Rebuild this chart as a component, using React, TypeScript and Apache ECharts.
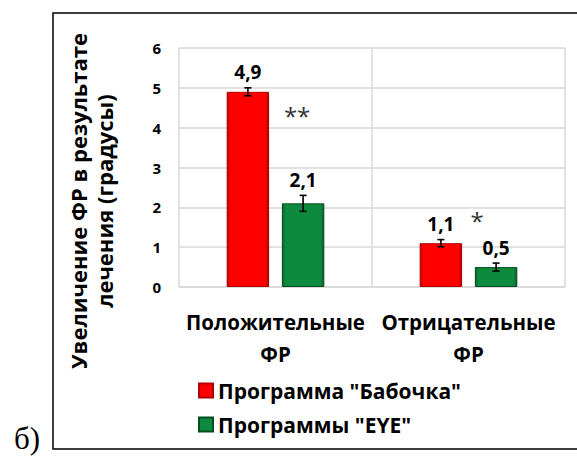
import React, { useEffect, useRef } from "react";
import * as echarts from "echarts";

const categories = ["Положительные\nФР", "Отрицательные\nФР"];
const seriesNames = ['Программа "Бабочка"', 'Программы "EYE"'];
const butterflyValues = [4.9, 1.1];
const eyeValues = [2.1, 0.5];
const butterflyErrors = [0.1, 0.09];
const eyeErrors = [0.2, 0.1];
const significanceMarks = ["**", "*"];
const significanceLevels = [4.3, 1.68];
const yTicks = [0, 1, 2, 3, 4, 5, 6];
const yAxisTitle = "Увеличение ФР в результате\nлечения (градусы)";
const panelLabel = "б)";

const FONT = "'Open Sans', 'Noto Sans', sans-serif";
const BAR_W = 0.22;
const BAR_GAP = 0.3;

function fmt(v: number) {
  return v.toFixed(1).replace(".", ",");
}

export default function App() {
  const ref = useRef<HTMLDivElement>(null);
  useEffect(() => {
    if (!ref.current) return;
    const chart = echarts.init(ref.current, null, { renderer: "svg" });
    const redFill = new echarts.graphic.LinearGradient(0, 0, 1, 0, [
      { offset: 0, color: "#a80000" },
      { offset: 0.07, color: "#ff0000" },
      { offset: 0.93, color: "#ff0000" },
      { offset: 1, color: "#9a0000" },
    ]);
    const greenFill = new echarts.graphic.LinearGradient(0, 0, 1, 0, [
      { offset: 0, color: "#075a26" },
      { offset: 0.07, color: "#0e8a3e" },
      { offset: 0.93, color: "#0e8a3e" },
      { offset: 1, color: "#065224" },
    ]);
    const errSeries = (vals: number[], errs: number[], sign: number, name: string) => ({
      type: "custom",
      name: name + " err",
      z: 5,
      silent: true,
      data: vals.map((v, i) => [i, v - errs[i], v + errs[i], v]),
      renderItem: (params: any, api: any) => {
        const cat = api.value(0);
        const lo = api.coord([cat, api.value(1)]);
        const hi = api.coord([cat, api.value(2)]);
        const bw = api.size([1, 0])[0] * BAR_W;
        const x = lo[0] + sign * bw * (1 + BAR_GAP) / 2;
        const cap = 3.5;
        const st = { stroke: "#000", lineWidth: 1.6 };
        return {
          type: "group",
          children: [
            { type: "line", shape: { x1: x, y1: lo[1], x2: x, y2: hi[1] }, style: st },
            { type: "line", shape: { x1: x - cap, y1: lo[1], x2: x + cap, y2: lo[1] }, style: st },
            { type: "line", shape: { x1: x - cap, y1: hi[1], x2: x + cap, y2: hi[1] }, style: st },
            {
              type: "text",
              x: x,
              y: hi[1] - 6,
              style: {
                text: fmt(api.value(3)),
                align: "center",
                verticalAlign: "bottom",
                font: `bold 19px ${FONT}`,
                fill: "#000",
              },
            },
          ],
        };
      },
    });
    chart.setOption({
      animation: false,
      grid: { left: 179, top: 48, width: 386, height: 239 },
      legend: {
        data: seriesNames,
        orient: "vertical",
        left: 193,
        top: 375,
        itemWidth: 14,
        itemHeight: 14,
        itemGap: 13,
        icon: "rect",
        textStyle: { fontFamily: FONT, fontWeight: "bold", fontSize: 21, color: "#000" },
      },
      xAxis: {
        type: "category",
        data: categories,
        axisTick: { show: false },
        axisLine: { show: true, lineStyle: { color: "#d9d9d9", width: 1.5 } },
        splitLine: { show: true, lineStyle: { color: "#d9d9d9", width: 1.5 } },
        axisLabel: {
          fontFamily: FONT,
          fontWeight: "bold",
          fontSize: 20.5,
          color: "#000",
          lineHeight: 32,
          margin: 19,
          interval: 0,
        },
      },
      yAxis: {
        type: "value",
        min: yTicks[0],
        max: yTicks[yTicks.length - 1],
        interval: 1,
        axisLine: { show: false },
        axisTick: { show: false },
        splitLine: { lineStyle: { color: "#d9d9d9", width: 1.5 } },
        axisLabel: { fontFamily: FONT, fontWeight: "bold", fontSize: 15, color: "#000", margin: 18 },
      },
      series: [
        {
          type: "bar",
          name: seriesNames[0],
          data: butterflyValues,
          barWidth: BAR_W * 100 + "%",
          barGap: BAR_GAP * 100 + "%",
          itemStyle: { color: redFill, borderColor: "#b00000", borderWidth: 1 },
        },
        {
          type: "bar",
          name: seriesNames[1],
          data: eyeValues,
          barWidth: BAR_W * 100 + "%",
          barGap: BAR_GAP * 100 + "%",
          itemStyle: { color: greenFill, borderColor: "#064d21", borderWidth: 1 },
          markPoint: {
            symbol: "circle",
            symbolSize: 0,
            silent: true,
            data: significanceMarks.map((m, i) => ({
              coord: [i, significanceLevels[i]],
              label: {
                show: true,
                formatter: m,
                offset: [i === 0 ? -6 : -19, 0],
                fontFamily: FONT,
                fontSize: 24,
                color: "#333333",
              },
            })),
          },
        },
        errSeries(butterflyValues, butterflyErrors, -1, seriesNames[0]),
        errSeries(eyeValues, eyeErrors, 1, seriesNames[1]),
      ],
      graphic: [
        {
          type: "rect",
          shape: { x: 53, y: 13, width: 620, height: 436 },
          style: { fill: "none", stroke: "#000", lineWidth: 1.5 },
          silent: true,
        },
        {
          type: "text",
          x: 91,
          y: 201,
          rotation: Math.PI / 2,
          style: {
            text: yAxisTitle,
            align: "center",
            verticalAlign: "middle",
            font: `bold 22px ${FONT}`,
            lineHeight: 26,
            fill: "#000",
          },
        },
        {
          type: "text",
          x: 27,
          y: 438,
          style: {
            text: panelLabel,
            align: "center",
            verticalAlign: "middle",
            font: "31px 'Liberation Serif', 'DejaVu Serif', serif",
            fill: "#000",
          },
        },
      ],
    });
    return () => chart.dispose();
  }, []);
  return (
    <div
      ref={ref}
      style={{ position: "absolute", left: 0, top: 0, width: 577, height: 461, background: "#fff" }}
    />
  );
}
